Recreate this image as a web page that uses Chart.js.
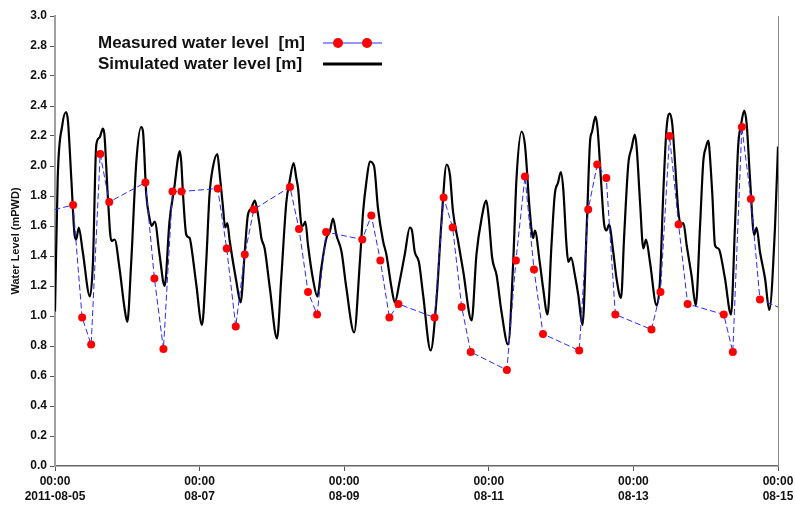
<!DOCTYPE html>
<html>
<head>
<meta charset="utf-8">
<title>Water Level</title>
<script src="https://cdn.jsdelivr.net/npm/chart.js@4/dist/chart.umd.min.js"></script>
<style>
  html, body { margin: 0; padding: 0; background: #ffffff; }
  #wrap { width: 795px; height: 505px; }
</style>
</head>
<body>
<div id="wrap"><canvas id="c" width="795" height="505"></canvas></div>
<script>
// Hours since 2011-08-05 00:00 for the date ticks
const tickHours = [0, 48, 96, 144, 192, 240];
const tickDates = ['2011-08-05', '08-07', '08-09', '08-11', '08-13', '08-15'];
const tickTimes = ['00:00', '00:00', '00:00', '00:00', '00:00', '00:00'];

// Measured water level: hours since start and level [m]
const measuredHours = [-6,
  6, 9, 12, 15, 18,
  30, 33, 36, 39, 42,
  54, 57, 60, 63, 66,
  78, 81, 84, 87, 90,
  102, 105, 108, 111, 114,
  126, 129, 132, 135, 138,
  150, 153, 156, 159, 162,
  174, 177, 180, 183, 186,
  198, 201, 204, 207, 210,
  222, 225, 228, 231, 234,
  246];
const measuredLevel = [1.68,
  1.74, 0.99, 0.81, 2.08, 1.76,
  1.89, 1.25, 0.78, 1.83, 1.83,
  1.85, 1.45, 0.93, 1.41, 1.71,
  1.86, 1.58, 1.16, 1.01, 1.56,
  1.51, 1.67, 1.37, 0.99, 1.08,
  0.99, 1.79, 1.59, 1.06, 0.76,
  0.64, 1.37, 1.93, 1.31, 0.88,
  0.77, 1.71, 2.01, 1.92, 1.01,
  0.91, 1.16, 2.20, 1.61, 1.08,
  1.01, 0.76, 2.26, 1.78, 1.11,
  1.01];

// Simulated water level: hours since start and level [m]
const simHours = [
  0.0, 0.9, 2.4, 3.7, 4.3, 5.4, 6.5, 7.0, 7.9, 9.2, 11.6,
  12.6, 13.7, 14.8, 15.9, 16.4, 17.5, 18.7, 19.8, 21.4, 23.1, 24.0,
  25.3, 27.0, 28.6, 29.2, 30.3, 31.4, 32.1, 33.1, 34.7, 36.4,
  38.0, 39.7, 40.8, 41.4, 41.9, 42.5, 43.6, 44.7, 45.2, 46.9, 48.8,
  50.2, 51.3, 52.4, 53.9, 54.6, 55.7, 56.5, 57.2, 58.0, 60.2, 61.6,
  63.0, 64.0, 65.2, 66.3, 66.8, 67.9, 68.5, 69.6, 71.3, 73.7,
  75.1, 76.8, 77.9, 79.2, 80.1, 80.7, 81.8, 82.3, 83.1, 84.0, 85.6, 87.1,
  88.4, 90.1, 91.2, 92.3, 93.4, 95.1, 96.7, 99.3,
  101.2, 102.3, 103.4, 104.5, 105.9, 107.2, 108.9, 110.0, 111.7, 112.8,
  114.4, 116.1, 117.8, 118.5, 119.4, 120.8, 122.2, 124.7,
  126.6, 128.3, 130.0, 131.1, 132.1, 133.8, 135.5, 138.3,
  139.9, 141.6, 143.2, 144.0, 145.1, 146.6, 148.2, 150.4,
  152.1, 153.2, 154.9, 156.0, 157.6, 158.7, 159.3, 160.9, 162.0, 163.5,
  164.8, 165.9, 167.0, 167.9, 168.7, 169.8, 170.4, 171.3, 172.6, 173.7, 175.1,
  176.5, 177.6, 178.3, 179.4, 180.1, 181.2, 182.3, 183.1, 183.9, 185.3, 186.4, 187.9,
  188.9, 190.3, 191.4, 192.5, 193.1, 194.2, 195.3, 196.2, 197.5, 199.7,
  200.8, 201.9, 203.0, 204.1, 204.9, 205.8, 206.9, 207.8, 208.6, 209.7, 211.3, 212.7,
  214.1, 215.2, 216.0, 216.9, 217.2, 218.2, 219.1, 220.2, 220.7, 222.4, 224.4,
  225.7, 226.8, 227.7, 228.8, 229.6, 230.7, 232.1, 232.9, 234.0, 235.7, 237.1,
  239.0, 240.0];
const simLevel = [
  1.03, 1.92, 2.27, 2.36, 2.30, 1.92, 1.54, 1.51, 1.59, 1.43, 1.13,
  1.36, 2.14, 2.19, 2.25, 2.21, 1.81, 1.50, 1.51, 1.32, 1.05, 0.96,
  1.36, 2.03, 2.26, 2.23, 1.81, 1.65, 1.60, 1.63, 1.41, 1.20,
  1.63, 1.87, 2.05, 2.10, 2.03, 1.81, 1.54, 1.52, 1.47, 1.21, 0.94,
  1.36, 1.81, 1.99, 2.08, 1.96, 1.74, 1.59, 1.62, 1.50, 1.23, 1.09,
  1.43, 1.67, 1.72, 1.77, 1.74, 1.61, 1.52, 1.45, 1.19, 0.85,
  1.25, 1.76, 1.90, 2.02, 1.92, 1.85, 1.61, 1.60, 1.63, 1.47, 1.25, 1.13,
  1.32, 1.52, 1.56, 1.65, 1.54, 1.43, 1.19, 0.89,
  1.36, 1.70, 1.90, 2.03, 2.00, 1.72, 1.50, 1.41, 1.19, 1.09,
  1.23, 1.41, 1.59, 1.57, 1.43, 1.36, 1.14, 0.77,
  1.10, 1.63, 2.01, 1.94, 1.70, 1.50, 1.30, 0.97,
  1.41, 1.65, 1.77, 1.65, 1.39, 1.27, 1.03, 0.81,
  1.36, 1.92, 2.23, 2.14, 1.70, 1.52, 1.57, 1.36, 1.19, 1.01,
  1.47, 1.81, 1.89, 1.96, 1.85, 1.47, 1.36, 1.39, 1.27, 1.14, 0.94,
  1.59, 2.16, 2.23, 2.33, 2.25, 1.92, 1.61, 1.57, 1.61, 1.43, 1.25, 1.12,
  1.52, 2.01, 2.12, 2.21, 2.12, 1.76, 1.45, 1.51, 1.36, 1.07,
  1.23, 1.81, 2.25, 2.35, 2.28, 2.03, 1.70, 1.61, 1.62, 1.47, 1.27, 1.07,
  1.59, 2.03, 2.12, 2.17, 2.12, 1.81, 1.47, 1.45, 1.43, 1.25, 1.01,
  1.59, 2.14, 2.27, 2.37, 2.28, 1.92, 1.54, 1.59, 1.43, 1.25, 1.04,
  1.59, 2.13];

const pairs = (xs, ys) => xs.map((x, i) => ({ x: x, y: ys[i] }));

const FONT = '"Liberation Sans", Arial, Helvetica, sans-serif';

// Legend drawn inside the plot area, sample line to the right of the text
const innerLegend = {
  id: 'innerLegend',
  afterDraw(chart) {
    const ctx = chart.ctx;
    const area = chart.chartArea;
    const textX = area.left + 43;
    const lineX0 = area.left + 268;
    const lineX1 = area.left + 327;
    chart.data.datasets.forEach((ds, i) => {
      const y = area.top + 27 + i * 21;
      ctx.save();
      ctx.font = 'bold 17px ' + FONT;
      ctx.fillStyle = '#111111';
      ctx.textAlign = 'left';
      ctx.textBaseline = 'middle';
      ctx.fillText(ds.label, textX, y);
      ctx.strokeStyle = ds.borderColor;
      ctx.lineWidth = ds.pointRadius > 0 ? 1 : 3;
      ctx.beginPath();
      ctx.moveTo(lineX0, y);
      ctx.lineTo(lineX1, y);
      ctx.stroke();
      if (ds.pointRadius > 0) {
        ctx.fillStyle = ds.pointBackgroundColor;
        [lineX0 + 15, lineX0 + 44].forEach(px => {
          ctx.beginPath();
          ctx.arc(px, y, 5, 0, Math.PI * 2);
          ctx.fill();
        });
      }
      ctx.restore();
    });
  }
};

new Chart(document.getElementById('c'), {
  type: 'line',
  data: {
    datasets: [
      {
        label: 'Measured water level  [m]',
        data: pairs(measuredHours, measuredLevel),
        borderColor: '#2a2aff',
        borderWidth: 1,
        borderDash: [6, 3],
        pointRadius: 4,
        pointBackgroundColor: '#ff0000',
        pointBorderColor: '#ff0000',
        pointBorderWidth: 0,
        tension: 0
      },
      {
        label: 'Simulated water level [m]',
        data: pairs(simHours, simLevel),
        borderColor: '#000000',
        borderWidth: 2.2,
        pointRadius: 0,
        cubicInterpolationMode: 'monotone'
      }
    ]
  },
  options: {
    responsive: false,
    animation: false,
    events: [],
    layout: { padding: { top: 16, right: 17, left: 0, bottom: 0 } },
    plugins: { legend: { display: false }, tooltip: { enabled: false } },
    scales: {
      x: {
        type: 'linear',
        min: 0,
        max: 240,
        afterBuildTicks: scale => { scale.ticks = tickHours.map(v => ({ value: v })); },
        afterFit: scale => {
          scale.height = 39;
          scale.paddingLeft = 0;
          scale.paddingRight = 0;
        },
        ticks: {
          autoSkip: false,
          maxRotation: 0,
          padding: 3,
          color: '#111111',
          font: { family: FONT, size: 12, weight: 'bold', lineHeight: 1.25 },
          callback: value => {
            const i = tickHours.indexOf(value);
            return i < 0 ? '' : [tickTimes[i], tickDates[i]];
          }
        },
        grid: { drawOnChartArea: false, tickLength: 5, color: '#555555', lineWidth: 1 },
        border: { color: '#666666', width: 1.5 }
      },
      y: {
        min: 0,
        max: 3,
        afterFit: scale => { scale.width = 55; },
        ticks: {
          stepSize: 0.2,
          padding: 3,
          color: '#111111',
          font: { family: FONT, size: 12, weight: 'bold' },
          callback: value => value.toFixed(1)
        },
        title: {
          display: true,
          text: 'Water Level (mPWD)',
          color: '#111111',
          padding: { top: 9, bottom: 0 },
          font: { family: FONT, size: 11, weight: 'bold' }
        },
        grid: { drawOnChartArea: false, tickLength: 5, color: '#555555', lineWidth: 1 },
        border: { color: '#a0a0a0', width: 2 }
      },
      yRight: {
        position: 'right',
        min: 0,
        max: 3,
        afterFit: scale => { scale.width = 0; },
        ticks: { display: false },
        grid: { display: false, drawTicks: false },
        border: { display: true, color: '#8a8a8a', width: 1 }
      }
    }
  },
  plugins: [innerLegend]
});
</script>
</body>
</html>
